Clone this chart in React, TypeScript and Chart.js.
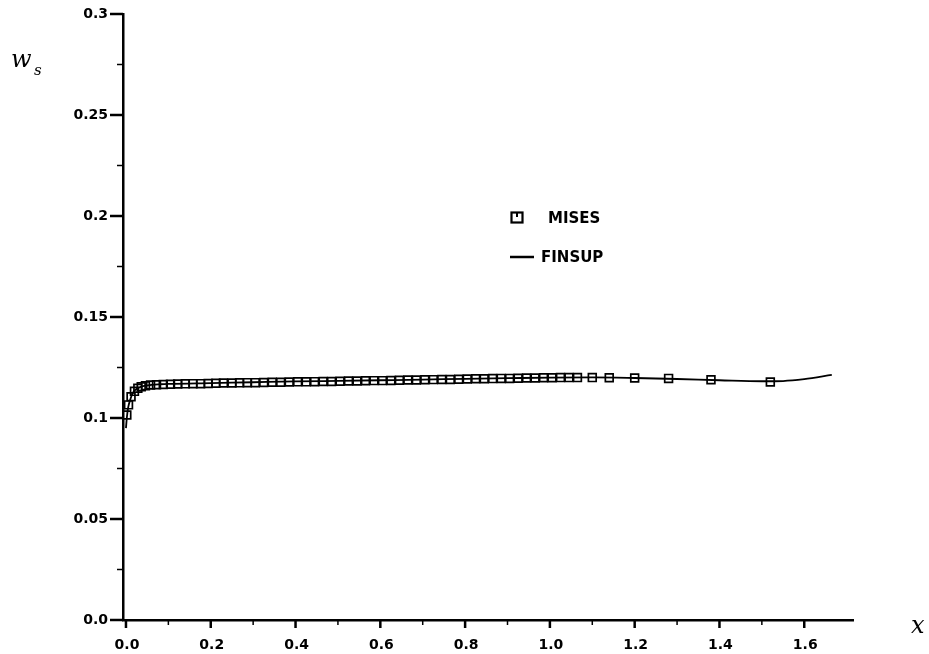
import React, { useEffect, useRef } from "react";
import { Chart, registerables } from "chart.js";

Chart.register(...registerables);

const misesX = [0.002, 0.006, 0.012, 0.02, 0.028, 0.036, 0.046, 0.058, 0.072, 0.088, 0.105, 0.122, 0.14, 0.158, 0.176, 0.194, 0.212, 0.23, 0.25, 0.268, 0.286, 0.305, 0.325, 0.345, 0.365, 0.385, 0.405, 0.425, 0.445, 0.465, 0.485, 0.505, 0.525, 0.545, 0.565, 0.585, 0.605, 0.625, 0.645, 0.665, 0.685, 0.705, 0.725, 0.745, 0.765, 0.785, 0.805, 0.825, 0.845, 0.865, 0.885, 0.905, 0.925, 0.945, 0.965, 0.985, 1.005, 1.025, 1.045, 1.065, 1.1, 1.14, 1.2, 1.28, 1.38, 1.52];
const misesY = [0.1015, 0.1065, 0.1105, 0.1132, 0.1147, 0.1155, 0.116, 0.1163, 0.1165, 0.1166, 0.1167, 0.1168, 0.1169, 0.117, 0.117, 0.1171, 0.1172, 0.1173, 0.1173, 0.1174, 0.1175, 0.1175, 0.1176, 0.1177, 0.1177, 0.1178, 0.1179, 0.1179, 0.118, 0.1181, 0.1181, 0.1182, 0.1183, 0.1183, 0.1184, 0.1185, 0.1185, 0.1186, 0.1187, 0.1188, 0.1188, 0.1189, 0.119, 0.1191, 0.1191, 0.1192, 0.1193, 0.1194, 0.1194, 0.1195, 0.1196, 0.1196, 0.1197, 0.1198, 0.1198, 0.1199, 0.1199, 0.12, 0.12, 0.12, 0.12, 0.1199, 0.1198, 0.1196, 0.1189, 0.1178];

const finsupX = [0, 0.002, 0.005, 0.01, 0.015, 0.02, 0.03, 0.04, 0.06, 0.08, 0.1, 0.2, 0.3, 0.4, 0.5, 0.6, 0.7, 0.8, 0.9, 1.0, 1.1, 1.2, 1.3, 1.4, 1.5, 1.55, 1.6, 1.665];
const finsupY = [0.095, 0.1, 0.105, 0.109, 0.112, 0.1135, 0.115, 0.1158, 0.1164, 0.1167, 0.1169, 0.1173, 0.1177, 0.1181, 0.1184, 0.1187, 0.119, 0.1194, 0.1197, 0.12, 0.1201, 0.1198, 0.1193, 0.1187, 0.1182, 0.1183, 0.1192, 0.1213];

const xTickValues = [0, 0.2, 0.4, 0.6, 0.8, 1.0, 1.2, 1.4, 1.6];
const xTickLabels = ["0.0", "0.2", "0.4", "0.6", "0.8", "1.0", "1.2", "1.4", "1.6"];
const xMinorTicks = [0.1, 0.3, 0.5, 0.7, 0.9, 1.1, 1.3, 1.5];
const yTickValues = [0, 0.05, 0.1, 0.15, 0.2, 0.25, 0.3];
const yTickLabels = ["0.0", "0.05", "0.1", "0.15", "0.2", "0.25", "0.3"];
const yMinorTicks = [0.025, 0.075, 0.125, 0.175, 0.225, 0.275];

const seriesNames = ["MISES", "FINSUP"];
const xAxisTitle = "x";
const yAxisTitleMain = "w";
const yAxisTitleSub = "s";

const TICK_FONT = "bold 14px 'DejaVu Sans'";

const decorPlugin = {
  id: "decor",
  afterDraw(chart: any) {
    const ctx = chart.ctx;
    const xs = chart.scales.x;
    const ys = chart.scales.y;
    const left = chart.chartArea.left;
    const bottom = chart.chartArea.bottom;
    ctx.save();
    ctx.strokeStyle = "#000";
    ctx.fillStyle = "#000";
    ctx.lineCap = "butt";
    ctx.lineWidth = 2.5;
    yTickValues.forEach((v, i) => {
      const py = ys.getPixelForValue(v);
      ctx.beginPath();
      ctx.moveTo(left - 13, py);
      ctx.lineTo(left, py);
      ctx.stroke();
      ctx.font = TICK_FONT;
      ctx.textAlign = "right";
      ctx.textBaseline = "middle";
      ctx.fillText(yTickLabels[i], left - 15, py);
    });
    ctx.lineWidth = 1.5;
    yMinorTicks.forEach((v) => {
      const py = ys.getPixelForValue(v);
      ctx.beginPath();
      ctx.moveTo(left - 6, py);
      ctx.lineTo(left, py);
      ctx.stroke();
    });
    ctx.lineWidth = 2.5;
    xTickValues.forEach((v, i) => {
      const px = xs.getPixelForValue(v);
      ctx.beginPath();
      ctx.moveTo(px, bottom);
      ctx.lineTo(px, bottom + 8);
      ctx.stroke();
      ctx.font = TICK_FONT;
      ctx.textAlign = "center";
      ctx.textBaseline = "middle";
      ctx.fillText(xTickLabels[i], px + 1, bottom + 25);
    });
    ctx.lineWidth = 1.5;
    xMinorTicks.forEach((v) => {
      const px = xs.getPixelForValue(v);
      ctx.beginPath();
      ctx.moveTo(px, bottom);
      ctx.lineTo(px, bottom + 5);
      ctx.stroke();
    });
    ctx.textAlign = "left";
    ctx.textBaseline = "alphabetic";
    ctx.font = "italic 24px 'DejaVu Serif'";
    ctx.fillText(yAxisTitleMain, 11, 67);
    ctx.font = "italic 15px 'DejaVu Serif'";
    ctx.fillText(yAxisTitleSub, 34, 75);
    ctx.font = "italic 24px 'DejaVu Serif'";
    ctx.fillText(xAxisTitle, 911, 633);
    ctx.lineWidth = 2.2;
    ctx.strokeRect(511.5, 212.5, 11, 10);
    ctx.lineWidth = 2;
    ctx.beginPath();
    ctx.moveTo(517, 213);
    ctx.lineTo(517, 217);
    ctx.stroke();
    ctx.lineWidth = 2.5;
    ctx.beginPath();
    ctx.moveTo(510, 257);
    ctx.lineTo(534, 257);
    ctx.stroke();
    ctx.font = "bold 15px 'DejaVu Sans'";
    ctx.textBaseline = "middle";
    ctx.fillText(seriesNames[0], 548, 219);
    ctx.fillText(seriesNames[1], 541, 258);
    ctx.restore();
  },
};

export default function App() {
  const ref = useRef<HTMLCanvasElement>(null);
  useEffect(() => {
    if (!ref.current) return;
    const chart = new Chart(ref.current, {
      type: "scatter",
      data: {
        datasets: [
          {
            label: seriesNames[0],
            data: misesX.map((x, i) => ({ x, y: misesY[i] })),
            pointStyle: "rect",
            pointRadius: 5.5,
            pointBorderWidth: 1.7,
            pointBorderColor: "#000",
            pointBackgroundColor: "rgba(0,0,0,0)",
            showLine: false,
          } as any,
          {
            label: seriesNames[1],
            data: finsupX.map((x, i) => ({ x, y: finsupY[i] })),
            showLine: true,
            borderColor: "#000",
            borderWidth: 1.8,
            pointRadius: 0,
            cubicInterpolationMode: "monotone",
          } as any,
        ],
      },
      options: {
        responsive: false,
        animation: false,
        events: [],
        layout: { padding: { top: 14, right: 76, left: 0, bottom: 0 } },
        plugins: { legend: { display: false }, tooltip: { enabled: false } },
        scales: {
          x: {
            type: "linear",
            min: -0.007,
            max: 1.715,
            grid: { display: false, drawTicks: false },
            border: { display: true, color: "#000", width: 2.5 },
            ticks: { display: false },
            afterFit: (s: any) => { s.height = 34; },
          },
          y: {
            type: "linear",
            min: 0,
            max: 0.3,
            grid: { display: false, drawTicks: false },
            border: { display: true, color: "#000", width: 2.5 },
            ticks: { display: false },
            afterFit: (s: any) => { s.width = 123; },
          },
        },
      },
      plugins: [decorPlugin],
    });
    return () => chart.destroy();
  }, []);
  return (
    <div style={{ position: "absolute", left: 0, top: 0, width: 929, height: 654, background: "#fff" }}>
      <canvas ref={ref} width={929} height={654} />
    </div>
  );
}
